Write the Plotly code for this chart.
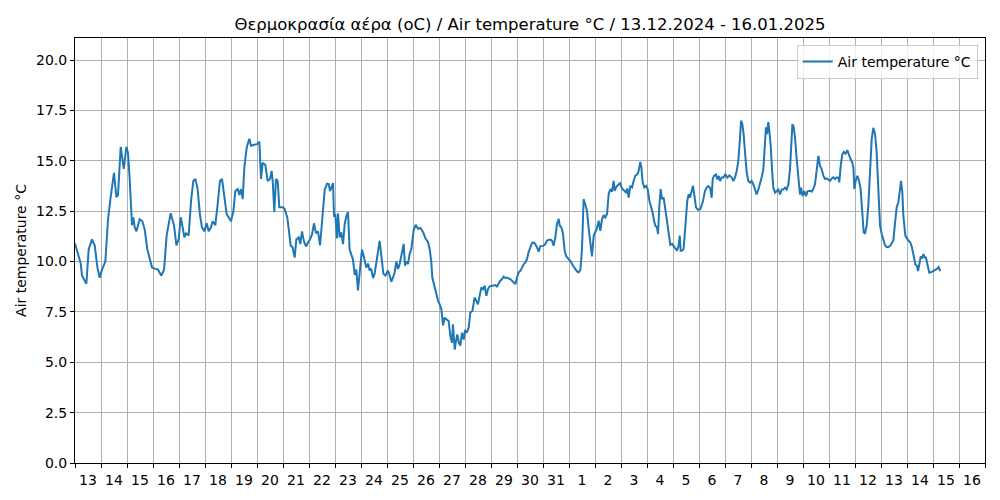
import pandas as pd
import plotly.graph_objects as go

# hours since 13.12.2024 00:00 and air temperature readings (°C)
hours = [
    0, 2.8, 5.3, 6.5, 10.5, 12.6, 15.7, 18.2, 20.7, 22.8, 24.9, 28.0, 30.5, 32.9, 36.0, 38.2,
    39.7, 42.2, 45.0, 47.4, 48.9, 50.5, 52.6, 53.9, 55.1, 56.7, 59.7, 62.2, 64.3, 66.8, 68.9,
    71.1, 73.6, 76.6, 79.7, 82.2, 84.6, 88.3, 91.4, 93.6, 95.7, 97.6,
    99.4, 100.9, 102.5, 104.9, 107.1, 109.2, 111.1, 113.2, 115.4, 117.2, 119.4, 121.5, 123.4,
    125.5, 127.1, 129.5, 131.7, 133.8, 135.7, 137.8, 140.0, 141.8, 144.0, 146.2, 148.0, 150.2,
    151.7, 153.2, 154.8, 156.3, 158.5, 160.9, 162.5, 165.5, 168.0, 170.2, 171.7, 173.2, 175.7,
    177.8, 180.0, 181.5, 182.5, 184.0, 185.5, 187.1, 188.6, 191.7,
    193.5, 196.0, 197.2, 199.1, 200.9, 202.8, 204.3, 206.5, 208.0, 209.5, 211.4, 213.2, 215.1,
    216.9, 218.8, 220.6, 222.5, 224.3, 226.2, 227.4, 228.9, 230.5, 232.6, 234.2, 235.4, 236.6,
    238.2, 239.1, 240.3, 241.8, 242.8, 244.3, 245.8, 247.4, 248.9, 250.5, 252.0, 253.5, 255.1,
    256.6, 258.2, 259.7, 261.2, 262.8, 264.9, 266.8, 268.9, 270.5, 272.0, 273.5, 275.1, 276.6,
    279.1, 281.2, 282.8, 284.6, 286.5, 288.9, 290.5, 292.0, 293.5,
    295.1, 296.6, 298.2, 299.7, 301.5, 303.4, 304.6, 305.8, 307.4, 308.9, 310.5, 312.6, 314.5,
    316.6, 318.8, 321.2, 323.7, 325.8, 327.4, 328.9, 329.8, 331.4, 333.5, 335.1, 336.6, 338.2,
    339.7, 341.2, 342.8, 344.9, 346.5, 348.0, 348.9, 350.5, 351.4, 352.9, 354.5, 355.7, 357.2,
    358.8, 360.0, 361.8, 363.4, 364.9, 366.8, 368.9, 370.5, 372.0, 373.5, 375.1, 376.6, 378.2,
    379.7, 381.2, 382.8, 385.2,
    388.0, 389.5, 391.1, 392.6, 394.2, 395.7, 397.2, 398.8, 400.3, 401.8, 403.4, 404.9, 406.5,
    408.0, 409.5, 411.1, 412.6, 414.2, 415.7, 417.2, 418.8, 420.3, 421.8, 423.4, 424.9, 426.5,
    428.0, 429.5, 431.1, 432.6, 434.2, 435.7, 437.2, 438.8, 440.3, 441.8, 443.4, 444.9, 446.5,
    447.4, 448.9, 450.5, 452.0, 453.5, 455.7, 457.8, 459.7, 461.8, 463.4, 464.9, 466.5, 468.0,
    469.5, 471.1, 472.6, 474.2, 475.7, 477.2, 478.8, 480.3, 481.8,
    483.4, 484.9, 486.5, 488.0, 489.5, 491.1, 492.6, 494.2, 495.7, 497.2, 498.2, 499.4, 501.2,
    503.1, 504.9, 506.8, 508.6, 509.8, 511.1, 512.6, 514.2, 515.7, 517.2, 519.1, 520.3, 521.8,
    522.8, 524.0, 525.5, 527.1, 528.6, 530.2, 532.0, 533.2, 534.5, 535.7, 537.2, 538.2, 539.4,
    540.6, 541.8, 543.4, 544.9, 546.5, 548.0, 549.5, 551.1, 552.6, 554.2, 555.7, 557.2, 558.2,
    559.1, 560.3, 561.8, 562.8, 564.0, 565.2, 566.5, 567.7, 568.9, 570.5, 572.0, 573.2, 575.1,
    577.2, 579.4,
    581.5, 583.1, 584.6, 586.2, 587.7, 588.6, 589.8, 591.7, 592.9, 594.2, 595.4, 596.9, 598.5,
    600.3, 602.2, 604.0, 606.2, 607.7, 609.2, 610.8, 612.3, 613.8, 614.8, 616.0, 617.2, 618.5,
    620.0, 621.5, 623.1, 624.6, 626.2, 627.7, 629.2, 630.8, 632.3, 633.8, 635.4, 636.6, 637.8,
    638.8, 640.0, 640.9, 642.2, 643.4, 644.6, 646.2, 647.7, 649.2, 650.8, 652.3, 653.8, 655.4,
    656.9, 658.5, 660.0, 660.9, 662.2, 663.4, 664.6, 666.2, 667.7, 669.2, 670.2, 671.7, 673.2,
    674.8, 676.3,
    678.5, 680.0, 681.5, 683.1, 684.6, 686.2, 687.7, 689.2, 690.8, 692.3, 693.8, 695.4, 696.9,
    698.5, 700.0, 701.5, 703.1, 704.6, 705.5, 706.8, 708.3, 709.8, 711.4, 712.9, 714.5, 716.0,
    717.5, 718.5, 719.4, 720.6, 722.2, 723.7, 725.2, 726.8, 728.0, 729.2, 730.8, 732.3, 733.8,
    735.4, 736.9, 738.5, 740.0, 741.5, 743.1, 744.6, 746.2, 747.7, 749.2, 750.8, 752.3, 753.8,
    755.4, 756.9, 758.5, 760.0, 761.5, 762.5, 763.7, 764.6,
    766.5, 768.0, 769.5, 771.1, 772.6, 774.2, 775.7, 777.2, 778.2, 779.4, 780.6, 781.8, 783.1,
    784.3, 785.5, 786.8, 788.6, 790.5, 792.3, 794.2, 796.0, 797.2, 798.8,
]

temps = [
    10.9, 10.3, 9.9, 9.3, 8.9, 10.6, 11.1, 10.8, 9.7, 9.2, 9.6, 10.0, 12.1, 13.2, 14.4, 13.2,
    13.3, 15.7, 14.6, 15.7, 15.4, 14.1, 11.8, 12.2, 11.7, 11.5, 12.1, 12.0, 11.6, 10.6, 10.2,
    9.7, 9.65, 9.6, 9.3, 9.6, 11.3, 12.4, 11.8, 10.8, 11.1, 12.2,
    11.7, 11.2, 11.4, 11.3, 13.0, 14.0, 14.1, 13.6, 12.3, 11.7, 11.5, 11.9, 11.5,
    11.7, 12.0, 11.8, 12.85, 14.0, 14.1, 13.3, 12.35, 12.2, 12.0, 12.5, 13.5, 13.6,
    13.3, 13.6, 13.1, 14.67, 15.66, 16.1, 15.75, 15.8, 15.83, 15.95, 14.1, 14.9, 14.8,
    14.0, 14.1, 14.5, 14.0, 12.47, 14.1, 14.0, 12.7, 12.7,
    12.62, 12.18, 11.5, 10.8, 10.7, 10.2, 11.1, 11.2, 10.87, 11.5, 11.0, 10.75, 10.95,
    11.1, 11.35, 11.9, 11.4, 11.5, 10.8, 11.5, 12.6, 13.57, 13.87, 13.85, 13.5, 13.65,
    13.9, 12.23, 12.35, 11.15, 12.4, 11.2, 11.45, 10.87, 11.85, 12.26, 12.46, 10.6, 10.38,
    10.1, 9.34, 9.6, 8.57, 9.6, 10.6, 10.2, 9.7, 9.9, 9.56, 9.64, 9.18, 9.4,
    10.3, 11.03, 10.3, 9.4, 9.3, 9.56, 9.3, 9.0, 9.2,
    9.47, 10.0, 9.63, 9.88, 10.38, 10.88, 9.8, 10.0, 9.88, 10.38, 10.63, 11.55, 11.83,
    11.63, 11.67, 11.47, 11.13, 10.97, 10.63, 9.97, 9.22, 8.88, 8.3, 8.05, 7.88, 7.63,
    6.83, 7.22, 7.13, 7.05, 6.3, 5.97, 6.88, 5.63, 5.97, 6.38, 5.93, 5.83, 6.47,
    6.13, 6.6, 6.47, 6.72, 7.47, 7.55, 8.22, 8.05, 7.88, 8.3, 8.72, 8.63, 8.8,
    8.3, 8.63, 8.77, 8.8,
    8.83, 8.76, 8.93, 9.05, 9.13, 9.26, 9.18, 9.21, 9.16, 9.13, 9.05, 8.96, 8.88,
    9.21, 9.46, 9.54, 9.71, 9.87, 9.96, 10.12, 10.49, 10.7, 10.92, 10.95, 10.87, 10.7,
    10.49, 10.76, 10.76, 10.79, 10.87, 11.04, 11.07, 11.09, 11.04, 10.79, 11.2, 11.87, 12.12,
    11.79, 11.7, 11.37, 10.54, 10.26, 10.12, 9.99, 9.79, 9.63, 9.51, 9.46, 9.59, 10.62,
    13.11, 12.82, 12.53, 11.62, 10.79, 10.26, 11.29, 11.45, 11.65,
    12.03, 11.53, 12.11, 12.31, 12.19, 12.36, 13.35, 13.6, 13.47, 14.01, 13.51, 13.68, 13.8,
    13.89, 13.63, 13.51, 13.43, 13.63, 13.18, 13.76, 13.68, 14.01, 14.26, 14.34, 14.5, 14.95,
    14.67, 13.93, 13.68, 13.76, 13.6, 13.02, 12.69, 12.44, 12.03, 11.78, 11.7, 11.37, 12.77,
    13.6, 13.1, 13.18, 12.6, 11.95, 11.37, 10.83, 10.88, 10.76, 10.66, 10.54, 10.79, 11.29,
    10.54, 10.54, 10.63, 11.29, 12.44, 13.02, 13.35, 13.18, 13.43, 13.76, 13.18, 12.69, 12.57,
    12.6, 12.94,
    13.5, 13.67, 13.75, 13.67, 13.17, 14.08, 14.25, 14.33, 14.08, 14.25, 14.0, 14.17, 14.17,
    14.33, 14.17, 14.28, 14.17, 14.0, 14.17, 14.5, 15.0, 16.08, 17.0, 16.83, 16.33, 15.42,
    14.42, 14.0, 13.92, 14.0, 13.83, 13.58, 13.33, 13.58, 13.83, 14.17, 14.58, 15.58, 16.67,
    16.33, 16.92, 16.5, 15.75, 14.58, 13.67, 13.42, 13.5, 13.58, 13.33, 13.58, 13.58, 13.67,
    13.58, 13.83, 14.58, 15.92, 16.83, 16.67, 16.17, 15.08, 14.25, 13.33, 13.67, 13.25, 13.5,
    13.25, 13.5,
    13.52, 13.47, 13.6, 13.85, 14.67, 15.25, 14.75, 14.59, 14.26, 14.1, 14.13, 14.06, 14.01,
    14.13, 14.18, 14.1, 14.18, 14.18, 13.93, 14.75, 15.33, 15.44, 15.33, 15.54, 15.25, 15.08,
    14.92, 14.67, 13.6, 14.01, 14.26, 14.01, 13.6, 12.61, 11.46, 11.38, 11.79, 12.78, 14.59,
    16.07, 16.64, 16.32, 15.41, 13.6, 11.79, 11.38, 11.13, 10.81, 10.72, 10.72, 10.77, 10.89,
    11.05, 11.88, 12.7, 12.94, 13.6, 14.01, 13.44, 12.29,
    11.28, 11.12, 11.03, 10.95, 10.7, 10.28, 9.87, 9.78, 9.53, 9.87, 10.25, 10.15, 10.37,
    10.2, 10.2, 9.87, 9.45, 9.48, 9.53, 9.58, 9.65, 9.73, 9.53,
]

start = pd.Timestamp("2024-12-13 00:00")
times = start + pd.to_timedelta(hours, unit="h")

FONT = "DejaVu Sans"

fig = go.Figure()

fig.add_trace(go.Scatter(
    x=times,
    y=temps,
    mode="lines",
    name="Air temperature °C",
    line=dict(color="#1f77b4", width=2),
))

fig.update_layout(
    width=1000,
    height=500,
    margin=dict(l=75, r=15, t=38, b=37),
    paper_bgcolor="white",
    plot_bgcolor="white",
    font=dict(family=FONT, size=14, color="black"),
    title=dict(
        text="Θερμοκρασία αέρα (oC) / Air temperature °C / 13.12.2024 - 16.01.2025",
        x=0.5, xref="paper", xanchor="center",
        y=1 - 24 / 500, yref="container", yanchor="middle",
        font=dict(family=FONT, size=16.5, color="black"),
    ),
    showlegend=True,
    legend=dict(
        x=0.992, y=0.984, xanchor="right", yanchor="top",
        bgcolor="rgba(255,255,255,0.8)",
        bordercolor="#cccccc", borderwidth=1,
        font=dict(family=FONT, size=14, color="black"),
        itemwidth=30,
    ),
)

fig.update_xaxes(
    type="date",
    range=["2024-12-13 00:00", "2025-01-17 00:00"],
    tick0="2024-12-13",
    dtick=86400000,
    tickformat="%-d",
    ticklabelmode="period",
    ticks="outside", ticklen=4, tickcolor="black",
    showgrid=True, gridcolor="#b0b0b0", gridwidth=1,
    showline=True, linecolor="black", linewidth=1, mirror=True,
    tickfont=dict(family=FONT, size=14, color="black"),
)

fig.update_yaxes(
    range=[0, 21.1],
    tick0=0, dtick=2.5,
    tickformat=".1f",
    ticks="outside", ticklen=4, tickcolor="black",
    showgrid=True, gridcolor="#b0b0b0", gridwidth=1,
    showline=True, linecolor="black", linewidth=1, mirror=True,
    zeroline=False,
    title=dict(text="Air temperature °C", font=dict(family=FONT, size=14, color="black"), standoff=6),
    tickfont=dict(family=FONT, size=14, color="black"),
)

# drop the default page margin so the figure sits at the window origin
fig.write_html(
    "out.html",
    config={"displayModeBar": False},
    post_script="document.body.style.margin='0';",
)
